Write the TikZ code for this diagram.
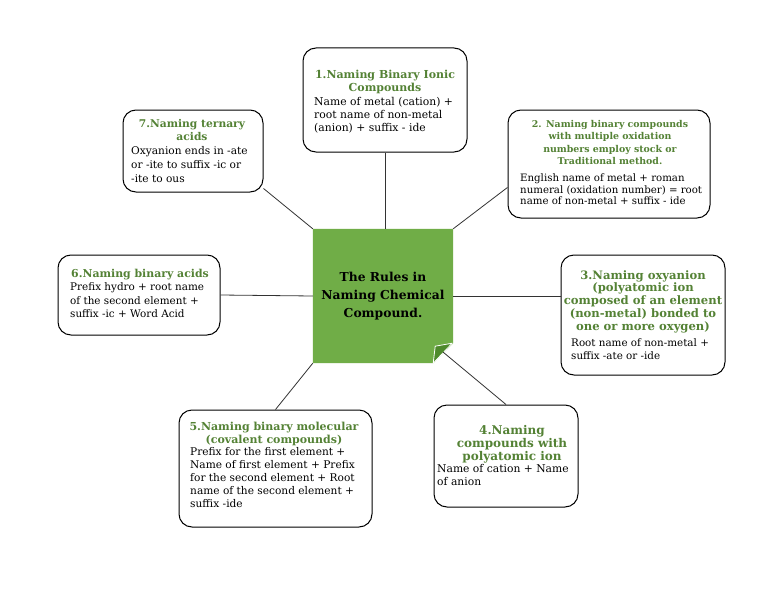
\documentclass[tikz,border=0pt]{standalone}
\usepackage{fontspec}
\setmainfont{DejaVu Serif}
\usetikzlibrary{calc,backgrounds}
\definecolor{ttl}{RGB}{84,130,53}
\definecolor{sq}{RGB}{112,173,71}
\definecolor{flapc}{RGB}{78,138,44}
\newcommand{\fsz}[2]{\fontsize{#1}{#2}\selectfont}
\begin{document}
\begin{tikzpicture}[x=1pt,y=-1pt,
  box/.style={draw=black, line width=1pt, rounded corners=13pt, inner sep=0pt},
  ttlnode/.style={text=ttl, align=center, inner sep=0pt, anchor=north},
  bodynode/.style={align=left, inner sep=0pt, anchor=north west},
  link/.style={draw=black!80, line width=0.8pt}]
\useasboundingbox (0,0) rectangle (768,594);

% boxes
\node[box, minimum width=164pt, minimum height=104pt] (b1) at (385,100) {};
\node[box, minimum width=202pt, minimum height=108pt] (b2) at (609,164) {};
\node[box, minimum width=140pt, minimum height=82pt] (b7) at (193,151) {};
\node[box, minimum width=162pt, minimum height=80pt] (b6) at (139,295) {};
\node[box, minimum width=164pt, minimum height=120pt] (b3) at (643,315) {};
\node[box, minimum width=144pt, minimum height=102pt] (b4) at (506,456) {};
\node[box, minimum width=193pt, minimum height=117pt] (b5) at (275.5,468.5) {};

% centre
\node[minimum width=140pt, minimum height=134pt, inner sep=0pt, align=center,
      font=\fsz{12.3}{18}\bfseries] (c) at (383,296)
  {The Rules in\\Naming Chemical\\Compound.};

\begin{pgfonlayer}{background}
  \fill[white] (0,0) rectangle (768,594);
  \fill[sq] (c.north west) -- (c.north east) -- ($(c.south east)+(0,-20)$)
     -- ($(c.south east)+(-20,0)$) -- (c.south west) -- cycle;
\end{pgfonlayer}
\filldraw[fill=flapc, draw=white, line width=0.8pt, line join=round]
  ($(c.south east)+(-20,0)$) -- ($(c.south east)+(-18,-17)$) -- ($(c.south east)+(-1,-20)$) -- cycle;

% titles and bodies
\node[ttlnode, font=\fsz{11}{13}\bfseries] (t1) at (385,69.5) {1.Naming Binary Ionic\\Compounds};
\node[bodynode, font=\fsz{10.8}{13}] (d1) at (314,96.6) {Name of metal (cation) +\\root name of non-metal\\(anion) + suffix - ide};

\node[ttlnode, font=\fsz{9.4}{12.3}\bfseries] (t2) at (610,120.3) {2. Naming binary compounds\\with multiple oxidation\\numbers employ stock or\\Traditional method.};
\node[bodynode, font=\fsz{10.2}{11.4}] (d2) at (520,173.8) {English name of metal + roman\\numeral (oxidation number) = root\\name of non-metal + suffix - ide};

\node[ttlnode, font=\fsz{10.7}{13}\bfseries] (t7) at (192,119.6) {7.Naming ternary\\acids};
\node[bodynode, font=\fsz{10.6}{14}] (d7) at (131,146.7) {Oxyanion ends in -ate\\or -ite to suffix -ic or\\-ite to ous};

\node[ttlnode, font=\fsz{10.9}{13}\bfseries] (t6) at (140,269.5) {6.Naming binary acids};
\node[bodynode, font=\fsz{10.4}{13.5}] (d6) at (70,282.8) {Prefix hydro + root name\\of the second element +\\suffix -ic + Word Acid};

\node[ttlnode, font=\fsz{11.6}{12.9}\bfseries] (t3) at (643,270) {3.Naming oxyanion\\(polyatomic ion\\composed of an element\\(non-metal) bonded to\\one or more oxygen)};
\node[bodynode, font=\fsz{10.35}{12.5}] (d3) at (571,338.8) {Root name of non-metal +\\suffix -ate or -ide};

\node[ttlnode, font=\fsz{12}{13}\bfseries] (t4) at (512,425) {4.Naming\\compounds with\\polyatomic ion};
\node[bodynode, font=\fsz{10.75}{13}] (d4) at (437,464.6) {Name of cation + Name\\of anion};

\node[ttlnode, font=\fsz{11}{13.5}\bfseries] (t5) at (274,421.5) {5.Naming binary molecular\\(covalent compounds)};
\node[bodynode, font=\fsz{10.6}{12.9}] (d5) at (190,447.7) {Prefix for the first element +\\Name of first element + Prefix\\for the second element + Root\\name of the second element +\\suffix -ide};

% connectors
\draw[link] (b1.south) -- (b1.south |- c.north);
\draw[link] (c.north east) -- (b2.193);
\draw[link] (c.north west) -- (b7.-28);
\draw[link] (b6.east) -- (c.west);
\draw[link] (c.east) -- (c.east -| b3.west);
\draw[link] ($(c.south east)+(-10,-11)$) -- (b4.north);
\draw[link] (c.south west) -- (b5.north);
\end{tikzpicture}
\end{document}
